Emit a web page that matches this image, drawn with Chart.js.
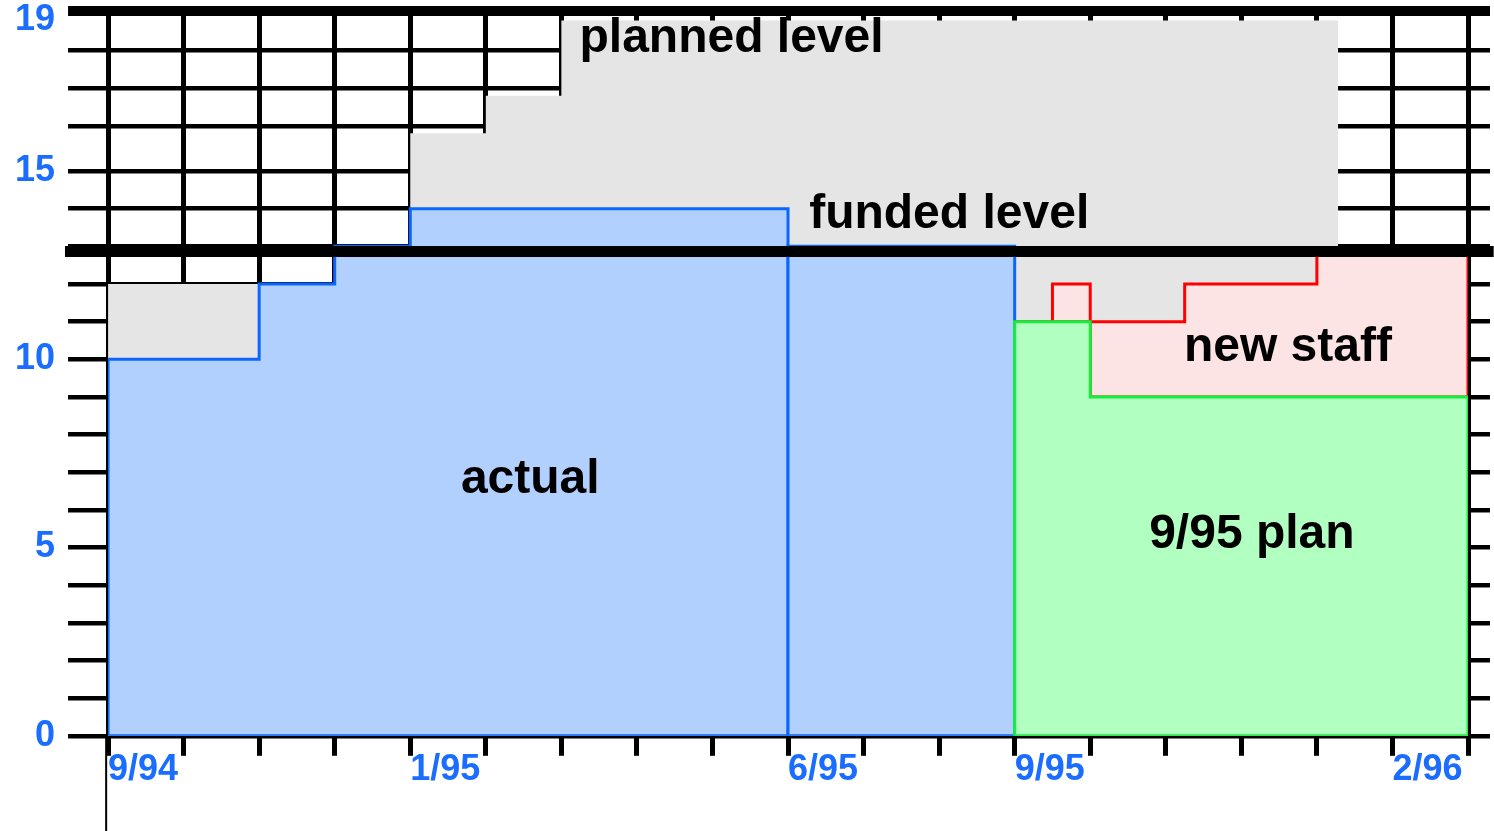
<!DOCTYPE html>
<html>
<head>
<meta charset="utf-8">
<script src="https://cdn.jsdelivr.net/npm/chart.js@4.4.1/dist/chart.umd.min.js"></script>
<style>
  body { margin: 0; background: #fff; }
  #wrap { width: 1494px; height: 831px; }
</style>
</head>
<body>
<div id="wrap"><canvas id="grafico"></canvas></div>
<script>
// months counted from 9/94 (0) up to 3/96 (18)
const monthTicks = [0, 1, 2, 3, 4, 5, 6, 7, 8, 9, 10, 11, 12, 13, 14, 15, 16, 17, 18]
const monthLabels = ['9/94', '1/95', '6/95', '9/95', '2/96']
const labelMonths = [0, 4, 9, 12, 17]

// staff levels; the upper grid rows sit a little higher in the original
const gridLevels = [0, 1, 2, 3, 4, 5, 6, 7, 8, 9, 10, 11, 12, 13, 14, 15, 16.2, 17.2, 18.2, 19, 19.25]
const levelLabels = [0, 5, 10, 15, 19]

const plannedBreaks = [0, 3, 4, 5, 6, 16.28, 18]
const plannedLevels = [12, 13, 16, 17, 19, 13]

const actualBreaks = [0, 2, 3, 4, 9]
const actualLevels = [10, 12, 13, 14]
const actualLateBreaks = [9, 12]
const actualLateLevels = [13]

const planBreaks = [12, 13, 18]
const planLevels = [11, 9]

const staffBreaks = [12, 12.5, 13, 14.25, 16, 18]
const staffLevels = [11, 12, 11, 12, 12.9]

const fundedLevel = 12.86

const notes = ['planned level', 'funded level', 'actual', 'new staff', '9/95 plan']
const noteMonths = [6.24, 9.28, 4.67, 14.24, 13.78]
const noteLevels = [18.16, 13.49, 6.46, 9.95, 5.0]

const fonte = '"Liberation Sans", Arial, Helvetica, sans-serif'
const azul = '#1a6dff'

function stepPath(breaks, levels) {
    const pts = []
    for (let i = 0; i < levels.length; i++) {
        pts.push({ x: breaks[i], y: levels[i] })
        pts.push({ x: breaks[i + 1], y: levels[i] })
    }
    return pts
}

function block(breaks, levels) {
    const first = breaks[0]
    const last = breaks[breaks.length - 1]
    return [{ x: first, y: 0 }, ...stepPath(breaks, levels), { x: last, y: 0 }, { x: first, y: 0 }]
}

function area(label, data, fill, border, width, order) {
    return {
        label: label,
        data: data,
        backgroundColor: fill,
        borderColor: border,
        borderWidth: width,
        fill: 'shape',
        pointRadius: 0,
        tension: 0,
        order: order
    }
}

const staffShape = stepPath(staffBreaks, staffLevels).concat(stepPath(planBreaks, planLevels).reverse())
staffShape.push(staffShape[0])

const notas = {
    id: 'notas',
    afterDraw(chart) {
        const ctx = chart.ctx
        ctx.save()
        ctx.font = 'bold 48px ' + fonte
        ctx.fillStyle = '#000'
        ctx.textAlign = 'left'
        ctx.textBaseline = 'alphabetic'
        for (let i = 0; i < notes.length; i++) {
            const x = chart.scales.x.getPixelForValue(noteMonths[i])
            const y = chart.scales.y.getPixelForValue(noteLevels[i])
            ctx.fillText(notes[i], x, y)
        }
        ctx.restore()
    }
}

function gridColor(ctx) {
    if (ctx.tick && ctx.tick.value === 19) {
        return 'rgba(0,0,0,0)'
    }
    return '#000'
}

function gridWidth(ctx) {
    if (ctx.tick && ctx.tick.value === 19.25) {
        return 10
    }
    return 4.5
}

const setLevels = s => { s.ticks = gridLevels.map(v => ({ value: v })) }

new Chart(document.getElementById('grafico'), {
    type: 'line',
    data: {
        datasets: [
            area('planned level', block(plannedBreaks, plannedLevels), '#e5e5e5', '#e5e5e5', 0, 7),
            area('actual', block(actualBreaks, actualLevels), '#b2d0fe', '#0a66ff', 3, 6),
            area('actual', block(actualLateBreaks, actualLateLevels), '#b2d0fe', '#0a66ff', 3, 5),
            area('new staff', staffShape, '#fde4e4', '#ff0000', 3, 4),
            area('9/95 plan', block(planBreaks, planLevels), '#b2ffc2', '#14ee3c', 3, 3),
            {
                label: 'funded level',
                data: [{ x: -0.57, y: fundedLevel }, { x: 18.34, y: fundedLevel }],
                borderColor: '#000',
                borderWidth: 11,
                pointRadius: 0,
                fill: false,
                clip: false,
                order: 2
            },
            {
                label: 'axis',
                data: [{ x: -0.025, y: 0 }, { x: -0.025, y: -2.6 }],
                borderColor: '#000',
                borderWidth: 2,
                pointRadius: 0,
                fill: false,
                clip: false,
                order: 1
            }
        ]
    },
    options: {
        responsive: true,
        maintainAspectRatio: false,
        animation: false,
        layout: { padding: { left: 2, right: 4, top: 11, bottom: 46 } },
        plugins: {
            legend: { display: false },
            tooltip: { enabled: false }
        },
        scales: {
            x: {
                type: 'linear',
                min: 0,
                max: 18,
                afterBuildTicks: s => { s.ticks = monthTicks.map(v => ({ value: v })) },
                grid: { color: '#000', lineWidth: 5, tickLength: 20 },
                border: { display: false },
                ticks: {
                    autoSkip: false,
                    maxRotation: 0,
                    align: 'start',
                    padding: -7,
                    color: azul,
                    font: { family: fonte, size: 36, weight: 'bold' },
                    callback: v => {
                        const i = labelMonths.indexOf(v)
                        return i >= 0 ? monthLabels[i] : ''
                    }
                }
            },
            y: {
                min: 0,
                max: 19.25,
                afterBuildTicks: setLevels,
                afterFit: s => { s.paddingTop = 0; s.paddingBottom = 0 },
                grid: { color: gridColor, lineWidth: gridWidth, tickLength: 40 },
                border: { display: false },
                ticks: {
                    autoSkip: false,
                    padding: 13,
                    color: azul,
                    font: { family: fonte, size: 36, weight: 'bold' },
                    callback: v => levelLabels.includes(v) ? String(v) : ''
                }
            },
            yRight: {
                position: 'right',
                min: 0,
                max: 19.25,
                afterBuildTicks: setLevels,
                grid: { drawOnChartArea: false, color: gridColor, lineWidth: gridWidth, tickLength: 22 },
                border: { display: false },
                ticks: { display: false }
            }
        }
    },
    plugins: [notas]
})
</script>
</body>
</html>
